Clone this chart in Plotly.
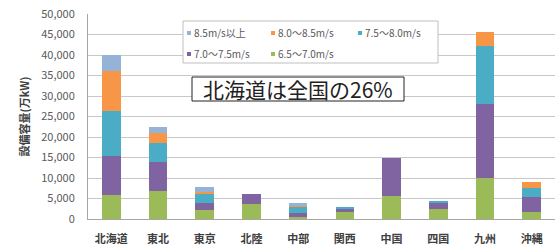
import plotly.graph_objects as go

categories = ["北海道", "東北", "東京", "北陸", "中部", "関西", "中国", "四国", "九州", "沖縄"]
s_65_70 = [5900, 6800, 2200, 3600, 600, 1700, 5700, 2400, 9900, 1800]
s_70_75 = [9500, 7100, 1600, 2500, 800, 800, 9300, 1600, 18100, 3600]
s_75_80 = [10900, 4600, 2200, 0, 1600, 300, 0, 400, 14300, 2100]
s_80_85 = [9700, 2500, 500, 0, 400, 0, 0, 0, 3200, 1600]
s_85_up = [4000, 1400, 1200, 0, 400, 0, 0, 0, 0, 0]

series = [
    ("6.5～7.0m/s", s_65_70, "#9BBB59"),
    ("7.0～7.5m/s", s_70_75, "#8064A2"),
    ("7.5～8.0m/s", s_75_80, "#4BACC6"),
    ("8.0～8.5m/s", s_80_85, "#F79646"),
    ("8.5m/s以上", s_85_up, "#95B3D7"),
]
yticks = [0, 5000, 10000, 15000, 20000, 25000, 30000, 35000, 40000, 45000, 50000]

W, H = 557, 248
L, R, T, B = 88, 2, 14, 29
PW, PH = W - L - R, H - T - B


def px(x):
    return (x - L) / PW


def py(y):
    return (H - B - y) / PH


fig = go.Figure()
for name, vals, col in series:
    fig.add_trace(go.Bar(x=categories, y=vals, name=name,
                         marker=dict(color=col, line=dict(width=0))))

font = "Noto Sans CJK JP"
shapes = []
annotations = []

# legend box (drawn manually to match the compact Excel-style legend)
shapes.append(dict(type="rect", xref="paper", yref="paper",
                   x0=px(183), x1=px(438), y0=py(63), y1=py(21),
                   line=dict(color="#BFBFBF", width=1), fillcolor="white", layer="above"))
legend_order = list(reversed(series))
slots = [(187, 33), (271, 33), (358, 33), (187, 54), (271, 54)]
for (name, _, col), (sx, sy) in zip(legend_order, slots):
    shapes.append(dict(type="rect", xref="paper", yref="paper",
                       x0=px(sx), x1=px(sx + 4), y0=py(sy + 2), y1=py(sy - 2),
                       line=dict(width=0), fillcolor=col, layer="above"))
    annotations.append(dict(text=name, xref="paper", yref="paper",
                            x=px(sx + 5), y=py(sy), xanchor="left", yanchor="middle",
                            showarrow=False, font=dict(size=10, color="#595959", family=font)))

# callout box
shapes.append(dict(type="rect", xref="paper", yref="paper",
                   x0=px(192), x1=px(404), y0=py(101), y1=py(77),
                   line=dict(color="#222222", width=1), fillcolor="white", layer="above"))
annotations.append(dict(
    text="北海道は全国の26%", xref="paper", yref="paper",
    x=px(298), y=py(89), xanchor="center", yanchor="middle",
    showarrow=False, font=dict(size=21, color="#222222", family=font),
))

fig.update_layout(
    barmode="stack",
    bargap=0.6,
    width=W, height=H,
    margin=dict(l=L, r=R, t=T, b=B),
    paper_bgcolor="white", plot_bgcolor="white",
    font=dict(family=font, color="#595959", size=10),
    showlegend=False,
    shapes=shapes,
    annotations=annotations,
)
fig.update_xaxes(
    showline=True, linecolor="#A6A6A6", linewidth=1,
    tickfont=dict(size=11, color="#404040", weight="bold"),
    ticks="outside", ticklen=10, tickcolor="rgba(0,0,0,0)",
    automargin=False,
)
fig.update_yaxes(
    range=[0, 50000], tickvals=yticks, tickformat=",d",
    showgrid=True, gridcolor="#C8C8C8", gridwidth=1,
    showline=True, linecolor="#A6A6A6", linewidth=1,
    tickfont=dict(size=11, color="#595959"),
    ticks="outside", ticklen=10, tickcolor="rgba(0,0,0,0)",
    title=dict(text="設備容量(万kW)", font=dict(size=11, color="#404040", weight="bold"), standoff=9),
    zeroline=False, automargin=False,
)
fig.write_html("out.html", config={"displayModeBar": False},
               post_script="document.body.style.margin='0px';")
